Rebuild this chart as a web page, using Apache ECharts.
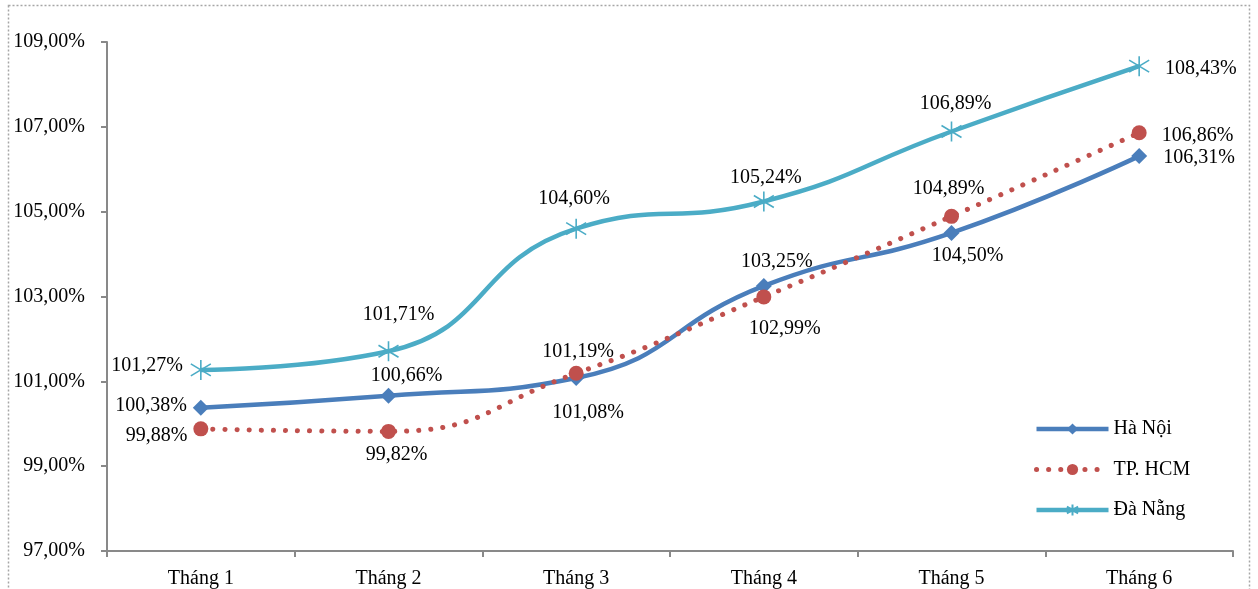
<!DOCTYPE html>
<html>
<head>
<meta charset="utf-8">
<script src="https://cdn.jsdelivr.net/npm/echarts@6/dist/echarts.min.js"></script>
<style>html,body{margin:0;padding:0;background:#fff;}#c{width:1258px;height:589px;}</style>
</head>
<body>
<div id="c"></div>
<script>
var categories = ['Tháng 1', 'Tháng 2', 'Tháng 3', 'Tháng 4', 'Tháng 5', 'Tháng 6'];
var haNoi = [100.38, 100.66, 101.08, 103.25, 104.50, 106.31];
var tpHCM = [99.88, 99.82, 101.19, 102.99, 104.89, 106.86];
var daNang = [101.27, 101.71, 104.60, 105.24, 106.89, 108.43];
var seriesNames = ['Hà Nội', 'TP. HCM', 'Đà Nẵng'];
var yMin = 97, yMax = 109, yStep = 2;

// label placement per point (style only)
var posHaNoi = [['left',[0,-2]],['top',[18,4]],['bottom',[12,11]],['top',[13,0]],['bottom',[16,-1]],['right',[10,2]]];
var posHCM   = [['left',[0,7]],['bottom',[8,0]],['top',[2,2]],['bottom',[21,8]],['top',[-3,-4]],['right',[9,3]]];
var posDN    = [['left',[-1,-4]],['top',[10,-10]],['top',[-2,-3]],['top',[2,3]],['top',[4,-1]],['right',[9,3]]];

function fmt(v){ return v.toFixed(2).replace('.', ',') + '%'; }
function build(vals, pos){
  return vals.map(function(v,i){
    return {value: v, label: {position: pos[i][0], offset: pos[i][1]}};
  });
}
var font = '"Liberation Serif", "Times New Roman", serif';
var asterisk = 'path://M0,-10L0,10M-8,-6L8,6M-8,6L8,-6';
var colors = ['#4a7ebb', '#c0504d', '#4bacc6'];

var chart = echarts.init(document.getElementById('c'));
chart.setOption({
  animation: false,
  textStyle: {fontFamily: font},
  graphic: [{
    type: 'rect', silent: true,
    shape: {x: 8.5, y: 5.5, width: 1241, height: 620},
    style: {fill: 'none', stroke: '#a6a6a6', lineWidth: 1.5, lineDash: [2, 2]}
  }],
  grid: {left: 107, right: 25, top: 42, bottom: 38, containLabel: false},
  legend: {
    orient: 'vertical', left: 1029, top: 414,
    itemWidth: 72, itemHeight: 14, itemGap: 20.5,
    textStyle: {fontFamily: font, fontSize: 20, color: '#000'},
    data: [
      {name: seriesNames[0], lineStyle: {width: 4.5}},
      {name: seriesNames[1], lineStyle: {width: 5}},
      {name: seriesNames[2], lineStyle: {width: 4.5}}
    ]
  },
  xAxis: {
    type: 'category', data: categories, boundaryGap: true,
    axisLine: {lineStyle: {color: '#898989', width: 2}},
    axisTick: {show: true, length: 6, lineStyle: {color: '#898989', width: 2}},
    axisLabel: {color: '#000', fontSize: 20, fontFamily: font, margin: 18}
  },
  yAxis: {
    type: 'value', min: yMin, max: yMax, interval: yStep,
    axisLine: {show: true, lineStyle: {color: '#898989', width: 2}},
    axisTick: {show: true, length: 6, lineStyle: {color: '#898989', width: 2}},
    splitLine: {show: false},
    axisLabel: {color: '#000', fontSize: 20, fontFamily: font, margin: 22, padding: [4, 0, 0, 0], formatter: function(v){ return fmt(v); }}
  },
  series: [
    {
      name: seriesNames[0], type: 'line', smooth: 0.5, data: build(haNoi, posHaNoi),
      symbol: 'diamond', symbolSize: 16,
      itemStyle: {color: colors[0]},
      lineStyle: {color: colors[0], width: 4.5},
      label: {show: true, distance: 6, color: '#000', fontSize: 20, fontFamily: font, formatter: function(p){ return fmt(p.value); }},
      z: 3
    },
    {
      name: seriesNames[1], type: 'line', smooth: 0.5, data: build(tpHCM, posHCM),
      symbol: 'circle', symbolSize: 15,
      itemStyle: {color: colors[1]},
      lineStyle: {color: colors[1], width: 5, type: [0.1, 12], cap: 'round'},
      label: {show: true, distance: 6, color: '#000', fontSize: 20, fontFamily: font, formatter: function(p){ return fmt(p.value); }},
      z: 4
    },
    {
      name: seriesNames[2], type: 'line', smooth: 0.5, data: build(daNang, posDN),
      symbol: asterisk, symbolSize: 20,
      itemStyle: {color: 'rgba(0,0,0,0)', borderColor: colors[2], borderWidth: 1.6},
      lineStyle: {color: colors[2], width: 4.5},
      label: {show: true, distance: 6, color: '#000', fontSize: 20, fontFamily: font, formatter: function(p){ return fmt(p.value); }},
      z: 2
    }
  ]
});
</script>
</body>
</html>
